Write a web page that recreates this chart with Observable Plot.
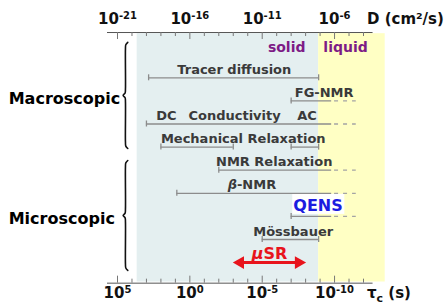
<!DOCTYPE html>
<html><head><meta charset="utf-8">
<script src="https://cdn.jsdelivr.net/npm/d3@7"></script>
<script src="https://cdn.jsdelivr.net/npm/@observablehq/plot@0.6"></script>
<style>body{margin:0;background:#fff;}</style>
</head><body><div id="chart"></div>
<script>
// ---- data (x values are log10 of tau_c in seconds; rows are technique rows) ----
const tickExp = [5,4,3,2,1,0,-1,-2,-3,-4,-5,-6,-7,-8,-9,-10,-11,-12];
const majorExp = [5,0,-5,-10];
const tauTickLabels = ["10^{5}","10^{0}","10^{-5}","10^{-10}"];
const dTickLabels = ["10^{-21}","10^{-16}","10^{-11}","10^{-6}"];
const phaseNames = ["solid","liquid"];
const phaseFrom = [3.64,-8.9];
const phaseTo = [-8.9,-13.5];
const phaseFill = ["#e4eff0","#ffffc4"];
const phaseLabelAt = [-6.69,-10.76];
const segRow = [0,1,2,3,3,4,5,6,7];
const segFrom = [2.85,-7,3,2,-7,-2,0.9,-7,-5];
const segTo = [-8.9,-9.8,-9.8,-3,-8.9,-9.8,-9.8,-9.8,-8.9];
const segCapEnd = [true,false,false,true,true,false,false,false,true];
const extRow = [1,2,4,5,6];
const extFrom = -10.0, extTo = -11.5;
const labelText = ["Tracer diffusion","FG-NMR","DC","Conductivity","AC","Mechanical Relaxation","NMR Relaxation","*β*-NMR","Mössbauer"];
const labelRow = [0,1,2,2,2,3,4,5,7];
const labelAt = [-3.07,-9.28,1.62,-3.09,-8.1,-3.69,-5.83,-4.29,-7.14];
const qensText = "QENS", qensRow = 6, qensAt = -8.86;
const musrText = "*μ*SR", musrRow = 8, musrFrom = -3, musrTo = -8;
const groupNames = ["Macroscopic","Microscopic"];
const groupFrom = [-1.535, 3.58];
const groupTo = [3.06, 8.34];

// ---- layout constants ----
const PX = 1/23.1;            // rows per pixel
const TOP = -1.96, BOTTOM = 8.89;
const AXIS_FROM = 5.69, AXIS_TO = -12.66;
const TOP_LABEL_ROW = -2.31, BOTTOM_LABEL_ROW = 9.55;
const UNIT_X = -12.24, GROUP_X = 12.52, BRACE_X = 4.45, HOOK = 0.16;

const phases = phaseNames.map((n,i)=>({name:n, from:phaseFrom[i], to:phaseTo[i], fill:phaseFill[i], at:phaseLabelAt[i]}));
const segs = segRow.map((r,i)=>({row:r, from:segFrom[i], to:segTo[i], capEnd:segCapEnd[i]}));
const caps = segs.flatMap(s => s.capEnd ? [{row:s.row,x:s.from},{row:s.row,x:s.to}] : [{row:s.row,x:s.from}]);
const exts = extRow.map(r=>({row:r}));
const labels = labelText.map((t,i)=>({text:t,row:labelRow[i],at:labelAt[i]}));
const groups = groupNames.map((n,i)=>({name:n, from:groupFrom[i], to:groupTo[i], mid:(groupFrom[i]+groupTo[i])/2}));
const bracePts = groups.flatMap(g => {
  const a = 4*PX;
  return [
    {g:g.name, x:BRACE_X-HOOK, y:g.from},
    {g:g.name, x:BRACE_X-HOOK*0.15, y:g.from+a*0.6},
    {g:g.name, x:BRACE_X, y:g.from+a*1.6},
    {g:g.name, x:BRACE_X, y:g.mid-a*1.6},
    {g:g.name, x:BRACE_X+HOOK*0.15, y:g.mid-a*0.6},
    {g:g.name, x:BRACE_X+HOOK, y:g.mid},
    {g:g.name, x:BRACE_X+HOOK*0.15, y:g.mid+a*0.6},
    {g:g.name, x:BRACE_X, y:g.mid+a*1.6},
    {g:g.name, x:BRACE_X, y:g.to-a*1.6},
    {g:g.name, x:BRACE_X-HOOK*0.15, y:g.to-a*0.6},
    {g:g.name, x:BRACE_X-HOOK, y:g.to}
  ];
});
const qens = [{text:qensText,row:qensRow,at:qensAt}];
const musr = [{text:musrText,row:musrRow,from:musrFrom,to:musrTo}];
const barColor = "#8c8c8c";
const bold = {fontWeight:"bold"};

const svg = Plot.plot({
  width:446, height:308, margin:0,
  x:{domain:[5,-12], range:[117,363], axis:null},
  y:{domain:[0,8], range:[77.3,262.1], axis:null},
  style:{fontFamily:"'DejaVu Sans', sans-serif", background:"white", overflow:"visible"},
  marks:[
    ...phases.map(p => Plot.rect([p], {x1:"from", x2:"to", y1:TOP+0.05, y2:BOTTOM-0.05, fill:p.fill})),
    Plot.rect(qens, {x1:d=>d.at+1.75, x2:d=>d.at-1.85, y1:d=>d.row-22*PX, y2:d=>d.row-2*PX, fill:"white"}),
    Plot.ruleY([TOP,BOTTOM], {y:d=>d, x1:AXIS_FROM, x2:AXIS_TO, stroke:"#555", strokeWidth:1}),
    Plot.ruleX(tickExp, {x:d=>d, y1:TOP, y2:d=>TOP+(majorExp.includes(d)?7:4)*PX, stroke:"#777"}),
    Plot.ruleX(tickExp, {x:d=>d, y1:BOTTOM, y2:d=>BOTTOM-(majorExp.includes(d)?7:4)*PX, stroke:"#777"}),
    Plot.ruleY(segs, {y:"row", x1:"from", x2:"to", stroke:barColor, strokeWidth:1.3}),
    Plot.ruleY(exts, {y:"row", x1:extFrom, x2:extTo, stroke:"#a4a4a4", strokeWidth:1.3, strokeDasharray:"4,5"}),
    Plot.ruleX(caps, {x:"x", y1:d=>d.row-3*PX, y2:d=>d.row+3*PX, stroke:barColor, strokeWidth:1.3}),
    Plot.ruleY(musr, {y:"row", x1:"from", x2:"to", stroke:"#e8141c", strokeWidth:3, insetLeft:6, insetRight:6}),
    Plot.dot(musr, {x:"from", y:"row", symbol:"triangle", r:4.8, rotate:-90, dx:7, fill:"#e8141c", stroke:null}),
    Plot.dot(musr, {x:"to", y:"row", symbol:"triangle", r:4.8, rotate:90, dx:-7, fill:"#e8141c", stroke:null}),
    Plot.text(labels, {x:"at", y:"row", text:"text", dy:-4, lineAnchor:"bottom", fontSize:13, fill:"#3a3a3a", ...bold}),
    Plot.text(phases, {x:"at", y:-1, text:"name", dy:-2.5, lineAnchor:"bottom", fontSize:14, fill:"#7d1b86", ...bold}),
    Plot.text(qens, {x:"at", y:"row", text:"text", dy:-5, lineAnchor:"bottom", fontSize:16, fill:"#1c1ce0", ...bold}),
    Plot.text(musr, {x:d=>(d.from+d.to)/2, y:"row", text:"text", dy:-3.5, lineAnchor:"bottom", fontSize:16, fill:"#e8141c", ...bold}),
    Plot.line(bracePts, {x:"x", y:"y", z:"g", curve:"catmull-rom", stroke:"#111", strokeWidth:1.6}),
    Plot.text(groups, {x:GROUP_X, y:"mid", text:"name", textAnchor:"start", dy:3, fontSize:16, fill:"#000", ...bold}),
    Plot.text(majorExp, {x:d=>d, y:TOP_LABEL_ROW, text:(d,i)=>dTickLabels[i], lineAnchor:"bottom", fontSize:15, fill:"#111", ...bold}),
    Plot.text(majorExp, {x:d=>d, y:BOTTOM_LABEL_ROW, text:(d,i)=>tauTickLabels[i], lineAnchor:"bottom", fontSize:15, fill:"#111", ...bold}),
    Plot.text(["D (cm²/s)"], {x:UNIT_X, y:TOP_LABEL_ROW, text:d=>d, textAnchor:"start", lineAnchor:"bottom", fontSize:15, fill:"#111", ...bold}),
    Plot.text(["τ_{c} (s)"], {x:UNIT_X, y:BOTTOM_LABEL_ROW, text:d=>d, textAnchor:"start", lineAnchor:"bottom", fontSize:15, fill:"#111", ...bold})
  ]
});

// rich text: ^{sup}, _{sub}, *italic*
const NS = "http://www.w3.org/2000/svg";
d3.select(svg).selectAll("text").each(function(){
  const s = this.textContent;
  if (!/\^\{|_\{|\*/.test(s)) return;
  const parts = s.split(/(\^\{[^}]*\}|_\{[^}]*\}|\*[^*]*\*)/).filter(p=>p);
  this.textContent = "";
  let shift = 0;
  for (const p of parts) {
    const t = document.createElementNS(NS, "tspan");
    let target = 0, txt = p;
    if (p.startsWith("^{")) { target = -5; txt = p.slice(2,-1); t.setAttribute("font-size","10px"); }
    else if (p.startsWith("_{")) { target = 4; txt = p.slice(2,-1); t.setAttribute("font-size","11px"); }
    else if (p.startsWith("*")) { txt = p.slice(1,-1); t.setAttribute("font-style","italic"); }
    if (target !== shift) t.setAttribute("dy", target - shift);
    shift = target;
    t.textContent = txt;
    this.appendChild(t);
  }
});
document.getElementById("chart").appendChild(svg);
</script>
</body></html>
